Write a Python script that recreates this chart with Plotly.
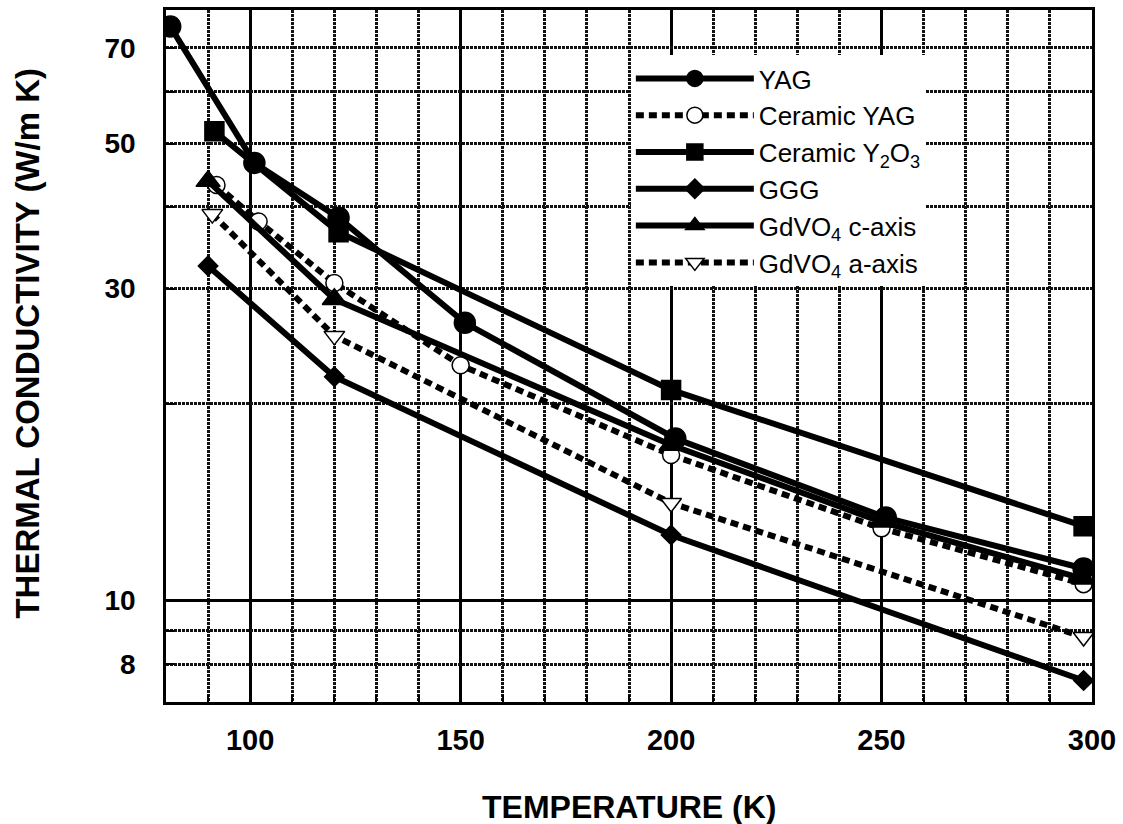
import plotly.graph_objects as go

# ---- data ----
yag_T = [81, 101, 121, 151, 201, 251, 298]
yag_k = [75.5, 46.7, 38.5, 26.6, 17.7, 13.4, 11.2]

cyag_T = [92, 102, 120, 150, 200, 250, 298]
cyag_k = [43.2, 38.0, 30.6, 22.9, 16.7, 12.9, 10.6]

y2o3_T = [91.5, 121, 200, 298]
y2o3_k = [52.2, 36.6, 21.0, 13.0]

ggg_T = [90, 120, 200, 298]
ggg_k = [32.5, 22.0, 12.6, 7.55]

gdc_T = [90, 120, 200, 250, 298]
gdc_k = [43.8, 28.9, 17.3, 13.2, 10.8]

gda_T = [91, 120, 200, 298]
gda_k = [39.0, 25.4, 14.1, 8.8]

y_ticks = [8, 9, 10, 20, 30, 40, 50, 60, 70, 80]
y_labels = ["8", "", "10", "", "30", "", "50", "", "70", ""]

FONT = "Liberation Sans, Arial, Helvetica, sans-serif"

fig = go.Figure()

def add(name, T, k, symbol, size, dash, fill="black"):
    fig.add_trace(go.Scatter(
        x=T, y=k, name=name, mode="lines+markers",
        line=dict(color="black", width=6, dash=dash),
        marker=dict(symbol=symbol, size=size, color=fill,
                    line=dict(color="black", width=1.5)),
    ))

# overlay axis carrying the solid gridline at 10
fig.add_trace(go.Scatter(x=[None], y=[None], yaxis="y2", showlegend=False, hoverinfo="skip"))

add("YAG", yag_T, yag_k, "circle", 21, "solid")
add("Ceramic YAG", cyag_T, cyag_k, "circle", 17, "8px,5px", fill="white")
add("Ceramic Y<sub>2</sub>O<sub>3</sub>", y2o3_T, y2o3_k, "square", 19, "solid")
add("GGG", ggg_T, ggg_k, "diamond", 15, "solid")
add("GdVO<sub>4</sub> c-axis", gdc_T, gdc_k, "triangle-up", 21, "solid")
add("GdVO<sub>4</sub> a-axis", gda_T, gda_k, "triangle-down", 18, "8px,5px", fill="white")

fig.update_layout(
    width=1123, height=824,
    margin=dict(l=166, r=31, t=7, b=122),
    paper_bgcolor="white", plot_bgcolor="white",
    font=dict(family=FONT, color="black"),
    xaxis=dict(
        type="linear", range=[80, 300], tickmode="linear", tick0=0, dtick=50,
        showgrid=True, gridcolor="black", gridwidth=2.5,
        minor=dict(tickmode="linear", tick0=0, dtick=10, showgrid=True,
                   gridcolor="#111111", gridwidth=2.5, griddash="3px,1px",
                   ticks="inside", ticklen=7, tickcolor="black", tickwidth=2),
        ticks="inside", ticklen=8, tickwidth=2.5, tickcolor="black",
        showline=True, linecolor="black", linewidth=2.5, mirror=True,
        zeroline=False,
        tickfont=dict(size=29, weight="bold"),
        ticklabelstandoff=10,
    ),
    yaxis=dict(
        type="log", range=[0.845098, 1.90309],
        tickvals=y_ticks, ticktext=y_labels,
        showgrid=True, gridcolor="#111111", gridwidth=2.5, griddash="3px,1px",
        ticks="inside", ticklen=8, tickwidth=2, tickcolor="black",
        showline=True, linecolor="black", linewidth=2.5, mirror=True,
        zeroline=False,
        tickfont=dict(size=28, weight="bold"),
        ticklabelstandoff=22,
    ),
    yaxis2=dict(
        type="log", range=[0.845098, 1.90309], overlaying="y",
        tickvals=[10], showticklabels=False,
        showgrid=True, gridcolor="black", gridwidth=3,
        ticks="", zeroline=False, showline=False,
    ),
    legend=dict(
        x=0.502, y=0.935, xanchor="left", yanchor="top",
        bgcolor="white", borderwidth=0,
        font=dict(size=26, family=FONT, color="black"),
        itemwidth=118, tracegroupgap=0,
    ),
    annotations=[
        dict(text="<b>TEMPERATURE (K)</b>", xref="paper", yref="paper",
             x=0.5, y=-0.152, yanchor="middle", xanchor="center",
             showarrow=False, font=dict(size=32)),
        dict(text="<b>THERMAL CONDUCTIVITY (W/m K)</b>", xref="paper", yref="paper",
             x=-0.149, y=0.518, xanchor="center", yanchor="middle", textangle=-90,
             showarrow=False, font=dict(size=33)),
    ],
    showlegend=True,
)

fig.write_html("out.html")
